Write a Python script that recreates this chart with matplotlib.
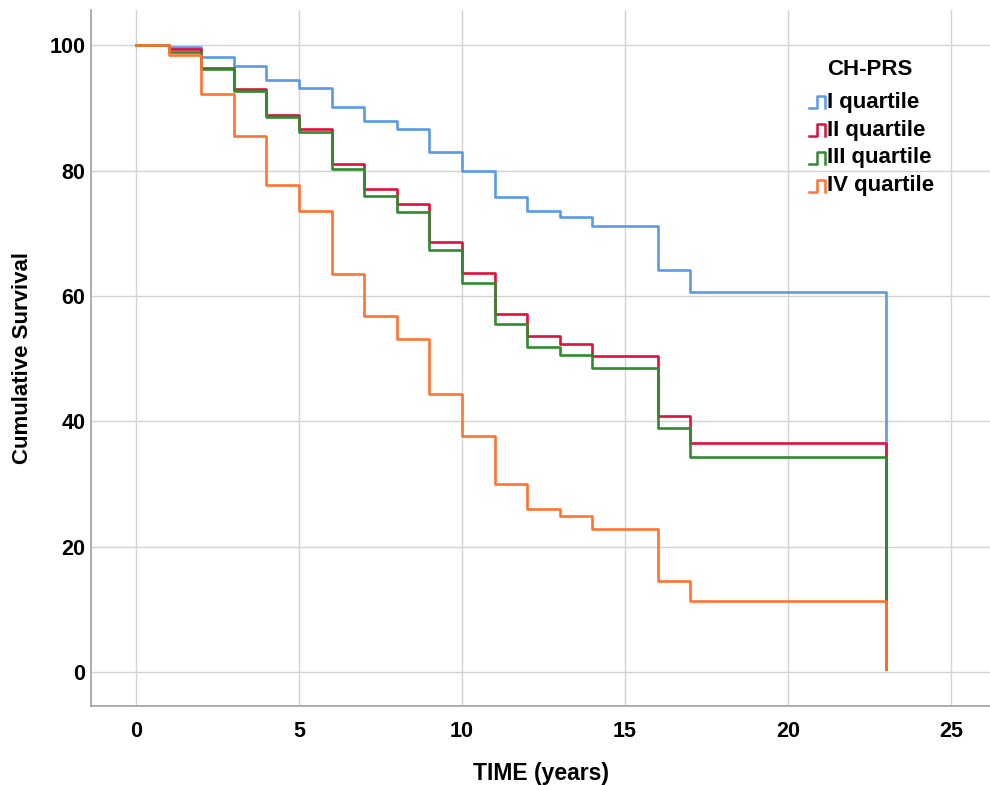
import matplotlib.pyplot as plt

# Kaplan-Meier step values
times = [0, 1, 2, 3, 4, 5, 6, 7, 8, 9, 10, 11, 12, 13, 14, 16, 17, 23]
q1 = [100, 99.7, 98.2, 96.7, 94.4, 93.2, 90.2, 87.9, 86.6, 83.0, 80.0, 75.8, 73.5, 72.6, 71.2, 64.1, 60.6, 0.5]
q2 = [100, 99.4, 96.4, 93.1, 88.9, 86.7, 81.0, 77.0, 74.7, 68.6, 63.6, 57.2, 53.7, 52.4, 50.4, 40.9, 36.6, 0.5]
q3 = [100, 99.0, 96.2, 92.7, 88.5, 86.1, 80.2, 76.0, 73.4, 67.3, 62.1, 55.5, 51.9, 50.6, 48.6, 38.9, 34.4, 0.5]
q4 = [100, 98.4, 92.3, 85.6, 77.7, 73.5, 63.5, 56.8, 53.2, 44.4, 37.6, 30.0, 26.0, 24.9, 22.8, 14.5, 11.4, 0.5]

labels = ["I quartile", "II quartile", "III quartile", "IV quartile"]
colors = ["#5a9ae6", "#e0103c", "#2e8b2e", "#ff7331"]

plt.rcParams['font.family'] = ['Liberation Sans', 'DejaVu Sans']
plt.rcParams['font.weight'] = 'bold'

fig = plt.figure(figsize=(9.9, 7.85), dpi=100)
ax = fig.add_axes([0.092, 0.1006, 0.908, 0.8864])

for ys, c in zip([q1, q2, q3, q4], colors):
    ax.step(times, ys, where='post', color=c, lw=1.9, zorder=3)

ax.set_xlim(-1.38, 26.2)
ax.set_ylim(-5.4, 105.6)
ax.set_xticks([0, 5, 10, 15, 20, 25])
ax.set_yticks([0, 20, 40, 60, 80, 100])
ax.tick_params(length=0, labelsize=15.5)
ax.tick_params(axis='x', pad=11)
ax.tick_params(axis='y', pad=4)
for t in ax.get_xticklabels() + ax.get_yticklabels():
    t.set_fontweight('bold')
ax.grid(True, color='#d2d2d2', lw=1.0, zorder=0)

for s in ['top', 'right']:
    ax.spines[s].set_visible(False)
for s in ['left', 'bottom']:
    ax.spines[s].set_color('#a0a0a0')
    ax.spines[s].set_linewidth(1.2)

ax.set_xlabel("TIME (years)", fontsize=16.5, fontweight='bold', labelpad=14)
ax.set_ylabel("Cumulative Survival", fontsize=16, fontweight='bold', labelpad=12)

# legend drawn by hand with small step icons
ax.text(0.8665, 0.915, "CH-PRS", transform=ax.transAxes, fontsize=16,
        fontweight='bold', ha='center', va='center')
for i, (lab, c) in enumerate(zip(labels, colors)):
    yy = 0.868 - i * 0.0402
    ax.plot([0.799, 0.808, 0.808, 0.817, 0.817], [yy - 0.008, yy - 0.008, yy + 0.008, yy + 0.008, yy - 0.008],
            transform=ax.transAxes, color=c, lw=1.8, zorder=4)
    ax.text(0.819, yy, lab, transform=ax.transAxes, fontsize=16,
            fontweight='bold', ha='left', va='center')

fig.savefig("out.png", dpi=100)
